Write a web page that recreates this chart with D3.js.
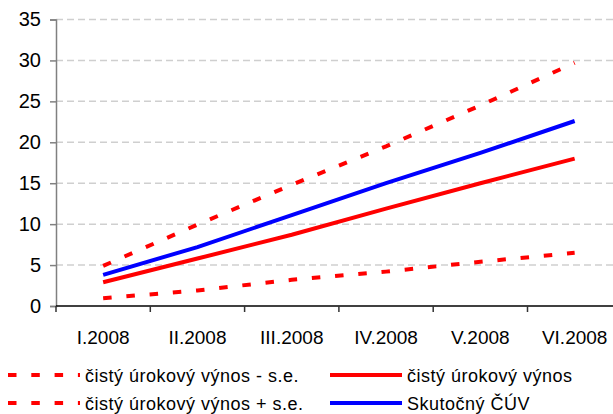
<!DOCTYPE html>
<html>
<head>
<meta charset="utf-8">
<script src="https://cdn.jsdelivr.net/npm/d3@7"></script>
<style>
  body { margin: 0; background: #fff; }
  text { font-family: Arial, "Liberation Sans", sans-serif; fill: #000; }
</style>
</head>
<body>
<script>
// data
const months = ["I.2008", "II.2008", "III.2008", "IV.2008", "V.2008", "VI.2008"];
const lowerSE = [0.95, 1.9, 3.2, 4.2, 5.4, 6.5];     // čistý úrokový výnos - s.e.
const upperSE = [4.9, 9.95, 14.8, 19.5, 24.5, 29.7]; // čistý úrokový výnos + s.e.
const cuv = [2.9, 5.8, 8.7, 11.9, 15.0, 18.0];       // čistý úrokový výnos
const actual = [3.8, 7.2, 11.1, 15.0, 18.7, 22.6];   // Skutočný ČÚV
const yTicks = [0, 5, 10, 15, 20, 25, 30, 35];

const W = 613, H = 414;
const plotLeft = 56, plotBottom = 306, plotTop = 19.5, bandW = 94.3;

const svg = d3.select("body").append("svg")
  .attr("width", W).attr("height", H);

const x = d3.scaleBand()
  .domain(months)
  .range([plotLeft, plotLeft + bandW * months.length])
  .padding(0);

const y = d3.scaleLinear()
  .domain([0, 35])
  .range([plotBottom, plotTop]);

// gridlines
svg.append("g")
  .selectAll("line")
  .data(yTicks.filter(d => d > 0))
  .join("line")
  .attr("x1", plotLeft).attr("x2", W)
  .attr("y1", d => y(d)).attr("y2", d => y(d))
  .attr("stroke", "#cfcfcf")
  .attr("stroke-width", 1.5)
  .attr("stroke-dasharray", "7,4");

// y axis
const yAxis = svg.append("g")
  .attr("transform", `translate(${plotLeft},0)`)
  .call(d3.axisLeft(y).tickValues(yTicks).tickSize(6).tickPadding(9));
yAxis.select(".domain").attr("stroke", "#808080").attr("stroke-width", 1.5);
yAxis.selectAll(".tick line").attr("stroke", "#808080").attr("stroke-width", 1.5);
yAxis.selectAll("text")
  .style("font-size", "20px")
  .attr("fill", "#000");

// x axis
const xAxis = svg.append("g")
  .attr("transform", `translate(0,${plotBottom})`)
  .call(d3.axisBottom(x).tickSize(0).tickPadding(0));
xAxis.select(".domain").remove();
xAxis.append("line")
  .attr("x1", plotLeft).attr("x2", W)
  .attr("stroke", "#000").attr("stroke-width", 1.5);
xAxis.selectAll(".tick text")
  .attr("y", 38).attr("dy", 0)
  .style("font-size", "19px")
  .attr("fill", "#000");
const bounds = months.map(m => x(m)).concat([x(months[months.length - 1]) + x.bandwidth()]);
xAxis.selectAll("line.bt")
  .data(bounds)
  .join("line")
  .attr("class", "bt")
  .attr("x1", d => d).attr("x2", d => d)
  .attr("y1", 0).attr("y2", 6)
  .attr("stroke", "#333").attr("stroke-width", 1.5);

// lines
const line = d3.line()
  .x((d, i) => x(months[i]) + x.bandwidth() / 2)
  .y(d => y(d));

const series = [
  { vals: lowerSE, color: "#ff0000", dash: "8.5,14.8" },
  { vals: upperSE, color: "#ff0000", dash: "8.5,14.8" },
  { vals: cuv, color: "#ff0000", dash: null },
  { vals: actual, color: "#0000ff", dash: null }
];

svg.append("g")
  .selectAll("path")
  .data(series)
  .join("path")
  .attr("d", d => line(d.vals))
  .attr("fill", "none")
  .attr("stroke", d => d.color)
  .attr("stroke-width", 4)
  .attr("stroke-dasharray", d => d.dash);

// legend
const legend = [
  { label: "čistý úrokový výnos - s.e.", color: "#ff0000", dash: "8.5,14.8", lx: 8, tx: 85, ly: 375, ty: 382 },
  { label: "čistý úrokový výnos + s.e.", color: "#ff0000", dash: "8.5,14.8", lx: 8, tx: 85, ly: 403, ty: 410 },
  { label: "čistý úrokový výnos", color: "#ff0000", dash: null, lx: 330, tx: 407, ly: 375, ty: 382 },
  { label: "Skutočný ČÚV", color: "#0000ff", dash: null, lx: 330, tx: 407, ly: 403, ty: 410 }
];

const lg = svg.append("g").selectAll("g").data(legend).join("g");
lg.append("line")
  .attr("x1", d => d.lx).attr("x2", d => d.lx + 72)
  .attr("y1", d => d.ly).attr("y2", d => d.ly)
  .attr("stroke", d => d.color)
  .attr("stroke-width", 4)
  .attr("stroke-dasharray", d => d.dash);
lg.append("text")
  .attr("x", d => d.tx).attr("y", d => d.ty)
  .style("font-size", "18px")
  .style("letter-spacing", "0.5px")
  .text(d => d.label);
</script>
</body>
</html>
